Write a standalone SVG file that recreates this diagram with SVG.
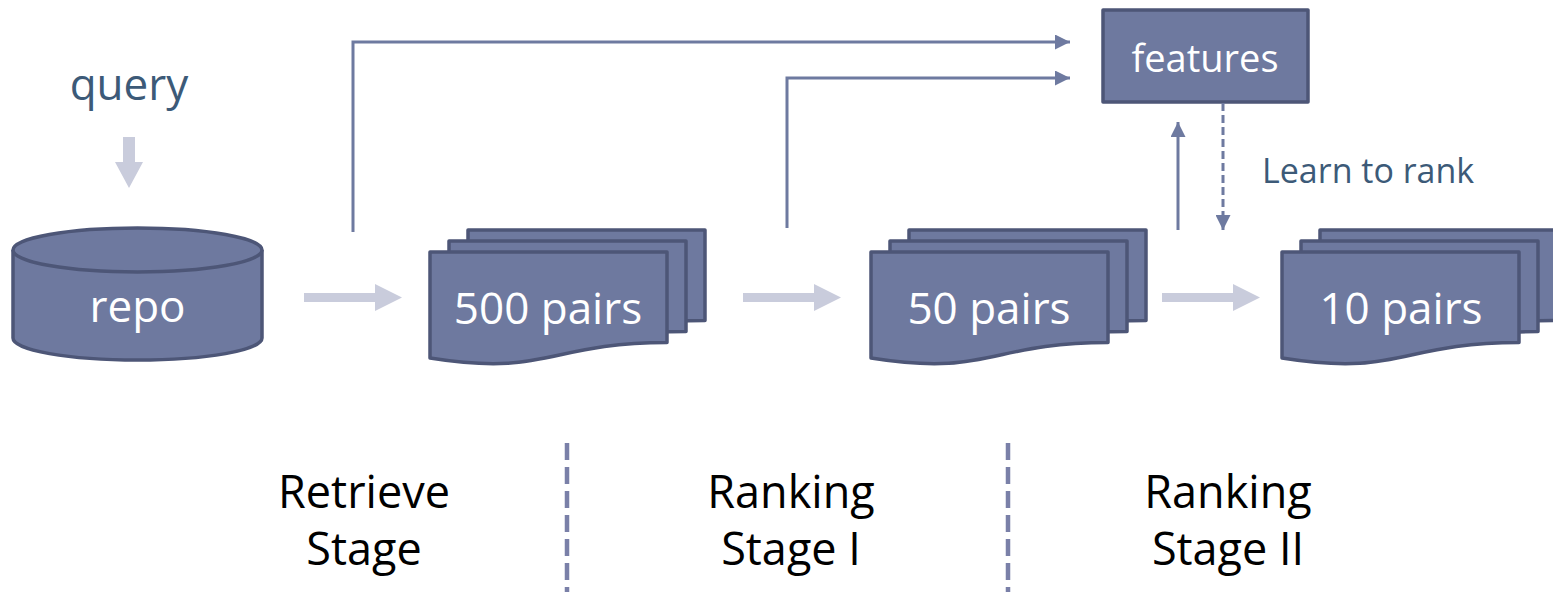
<svg xmlns="http://www.w3.org/2000/svg" width="1553" height="592" viewBox="0 0 1553 592">
<style>
.node{fill:#6e799f;stroke:#4d5677;stroke-width:3.5;stroke-linejoin:round}
.ntext{font-family:"Open Sans","Noto Sans",sans-serif;fill:#ffffff;text-anchor:middle}
.conn{fill:none;stroke:#6e7aa0;stroke-width:3}
.light{fill:#c9ccdc}
.stage{font-family:"Open Sans","Noto Sans",sans-serif;font-size:45px;fill:#000000;text-anchor:middle}
.label{font-family:"Open Sans","Noto Sans",sans-serif;fill:#3c5a78}
.sep{stroke:#7a80a8;stroke-width:4.5;stroke-dasharray:17 7}
</style>
<defs>
<marker id="ah" viewBox="0 0 10 10" refX="10" refY="5" markerWidth="5" markerHeight="5" orient="auto" markerUnits="strokeWidth">
<path d="M0,0 L10,5 L0,10 Z" fill="#6e7aa0"/>
</marker>
<path id="doc" d="M0,0 H237 V90.6 C118.5,90.6 118.5,125 0,106 Z"/>
</defs>

<g id="query">
<text class="label" x="129" y="100" font-size="44" font-weight="500" text-anchor="middle">query</text>
</g>

<g id="repo">
<path class="node" d="M13,250 V338 A124,22 0 0 0 262,338 V250"/>
<ellipse class="node" cx="137.5" cy="250" rx="124.5" ry="22"/>
<text class="ntext" x="137.5" y="322" font-size="44">repo</text>
</g>

<g id="pairs500">
<use href="#doc" class="node" x="468" y="230"/>
<use href="#doc" class="node" x="449" y="241"/>
<use href="#doc" class="node" x="430" y="252"/>
<text class="ntext" x="548" y="324" font-size="44">500 pairs</text>
</g>

<g id="pairs50">
<use href="#doc" class="node" x="909" y="230"/>
<use href="#doc" class="node" x="890" y="241"/>
<use href="#doc" class="node" x="871" y="252"/>
<text class="ntext" x="989" y="324" font-size="44">50 pairs</text>
</g>

<g id="pairs10">
<use href="#doc" class="node" x="1320" y="230"/>
<use href="#doc" class="node" x="1301" y="241"/>
<use href="#doc" class="node" x="1282" y="252"/>
<text class="ntext" x="1401" y="324" font-size="44">10 pairs</text>
</g>

<g id="features">
<rect class="node" x="1103" y="10" width="205" height="92"/>
<text class="ntext" x="1205" y="72" font-size="38">features</text>
</g>

<g id="learn-label">
<text class="label" x="1262" y="183" font-size="34" font-weight="500">Learn to rank</text>
</g>

<g id="connectors">
<path class="conn" d="M353,232 V42 H1070" marker-end="url(#ah)"/>
<path class="conn" d="M787,228 V78 H1070" marker-end="url(#ah)"/>
<path class="conn" d="M1178,230 V122" marker-end="url(#ah)"/>
<path class="conn" d="M1223,103 V230" stroke-dasharray="8 4" marker-end="url(#ah)"/>
<path class="light" d="M123,137 H135 V162 H143 L129,188 L115,162 H123 Z"/>
<path class="light" d="M304,293 H375 V284 L402,297.5 L375,311 V302 H304 Z"/>
<path class="light" d="M743,293 H814 V284 L841,297.5 L814,311 V302 H743 Z"/>
<path class="light" d="M1162,293 H1233 V284 L1260,297.5 L1233,311 V302 H1162 Z"/>
</g>

<g id="separators">
<line class="sep" x1="567" y1="443" x2="567" y2="592"/>
<line class="sep" x1="1008" y1="443" x2="1008" y2="592"/>
</g>

<g id="stages">
<text class="stage" x="364" y="508">Retrieve</text>
<text class="stage" x="364" y="565">Stage</text>
<text class="stage" x="791" y="508">Ranking</text>
<text class="stage" x="791" y="565">Stage I</text>
<text class="stage" x="1228" y="508">Ranking</text>
<text class="stage" x="1228" y="565">Stage II</text>
</g>
</svg>
